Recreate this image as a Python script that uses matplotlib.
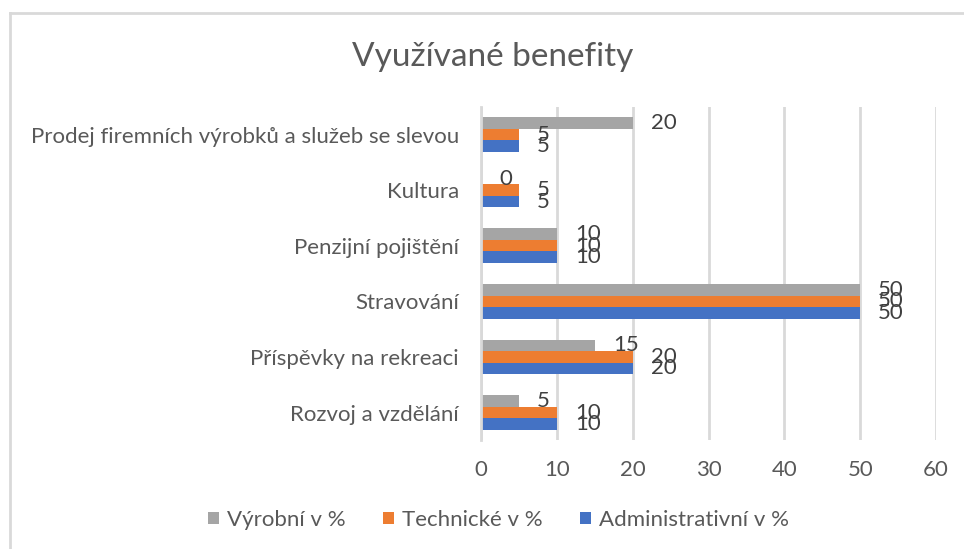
import matplotlib
matplotlib.use('Agg')
import matplotlib.pyplot as plt
import numpy as np

# kategorie odspodu nahoru (jako v Excelu)
kategorie = ['Rozvoj a vzdělání', 'Příspěvky na rekreaci', 'Stravování',
             'Penzijní pojištění', 'Kultura',
             'Prodej firemních výrobků a služeb se slevou']
administrativni = [10, 20, 50, 10, 5, 5]
technicke = [10, 20, 50, 10, 5, 5]
vyrobni = [5, 15, 50, 10, 0, 20]

serie = ['Administrativní v %', 'Technické v %', 'Výrobní v %']
barvy = ['#4472C4', '#ED7D31', '#A5A5A5']
x_ticks = [0, 10, 20, 30, 40, 50, 60]

plt.rcParams['font.family'] = ['Lato', 'DejaVu Sans']
text_color = '#595959'

fig = plt.figure(figsize=(9.64, 5.49), dpi=100)
ax = fig.add_axes([0.499, 0.198, 0.472, 0.6076])

y = np.arange(len(kategorie))
h = 0.207
hodnoty = [administrativni, technicke, vyrobni]
offsets = [-h, 0, h]

bars = []
for vals, off, c, name in zip(hodnoty, offsets, barvy, serie):
    b = ax.barh(y + off, vals, height=h, color=c, label=name, zorder=3)
    bars.append(b)
    for yi, v in zip(y, vals):
        ax.annotate(str(v), (v, yi + off), xytext=(13, 0), textcoords='offset points',
                    ha='left', va='center', fontsize=16, color='#404040', zorder=4)

ax.set_xlim(0, 60)
ax.set_ylim(-0.5, 5.5)
ax.set_xticks(x_ticks)
ax.set_yticks(y)
ax.set_yticklabels(kategorie)
ax.tick_params(axis='x', length=0, pad=14, labelsize=16, labelcolor=text_color)
ax.tick_params(axis='y', length=0, pad=16, labelsize=16, labelcolor=text_color)
ax.grid(axis='x', color='#D9D9D9', linewidth=2, zorder=0)
for s in ['top', 'right', 'bottom']:
    ax.spines[s].set_visible(False)
ax.spines['left'].set_color('#D9D9D9')
ax.spines['left'].set_linewidth(2)
ax.spines['left'].set_zorder(3.5)

fig.text(0.511, 0.896, 'Využívané benefity', ha='center', va='center',
         fontsize=24, color=text_color)

handles = bars[::-1]
labels = serie[::-1]
fig.legend(handles, labels, loc='center', bbox_to_anchor=(0.517, 0.053), ncol=3,
           frameon=False, fontsize=16, labelcolor=text_color,
           handlelength=0.5, handleheight=0.5, handletextpad=0.35, columnspacing=1.7)

# okraj grafu (vidět jen levý a horní)
fig.add_artist(plt.Line2D([0.0105, 0.0105], [0, 0.977], color='#D9D9D9', linewidth=2,
                          transform=fig.transFigure))
fig.add_artist(plt.Line2D([0.0105, 1], [0.977, 0.977], color='#D9D9D9', linewidth=2,
                          transform=fig.transFigure))

plt.savefig('out.png', dpi=100)
plt.close()
